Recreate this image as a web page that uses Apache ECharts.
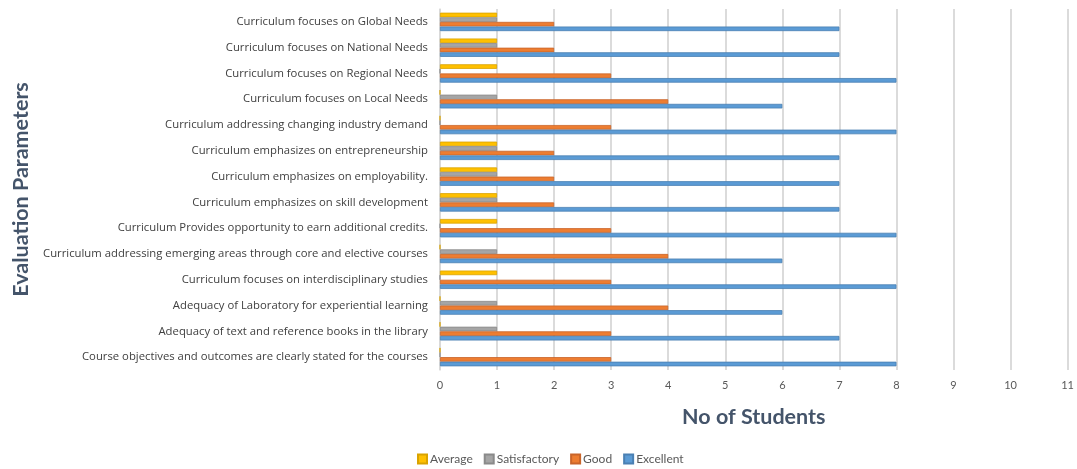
<!DOCTYPE html>
<html><head><meta charset="utf-8">
<script src="https://cdn.jsdelivr.net/npm/echarts@6/dist/echarts.min.js"></script>
<style>html,body{margin:0;padding:0;background:#fff}#c{width:1077px;height:469px}</style>
</head><body><div id="c"></div>
<script>
const categories = [
  "Curriculum focuses on Global Needs",
  "Curriculum focuses on National Needs",
  "Curriculum focuses on Regional Needs",
  "Curriculum focuses on Local Needs",
  "Curriculum addressing changing industry demand",
  "Curriculum emphasizes on entrepreneurship",
  "Curriculum emphasizes on employability.",
  "Curriculum emphasizes on skill development",
  "Curriculum Provides opportunity to earn additional credits.",
  "Curriculum addressing emerging areas through core and elective courses",
  "Curriculum focuses on interdisciplinary studies",
  "Adequacy of Laboratory for experiential learning",
  "Adequacy of text and reference books in the library",
  "Course objectives and outcomes are clearly stated for the courses"
];
const average      = [1,1,1,0,0,1,1,1,1,0,1,0,0,0];
const satisfactory = [1,1,0,1,0,1,1,1,0,1,0,1,1,0];
const good         = [2,2,3,4,3,2,2,2,3,4,3,4,3,3];
const excellent    = [7,7,8,6,8,7,7,7,8,6,8,6,7,8];
const xTicks = [0,1,2,3,4,5,6,7,8,9,10,11];

const font = "Lato, 'Open Sans', sans-serif";
const labelFont = "'Open Sans', sans-serif";
function mk(name, data, color, border) {
  return {
    name, type: 'bar', data, barWidth: 4.6, barGap: '0%',
    itemStyle: { color, borderColor: border, borderWidth: 0.8 },
    emphasis: { disabled: true }
  };
}
const chart = echarts.init(document.getElementById('c'));
chart.setOption({
  animation: false,
  textStyle: { fontFamily: font },
  grid: { left: 440, right: 2, top: 9, bottom: 99, containLabel: false },
  legend: {
    bottom: -1, left: 412, itemWidth: 9, itemHeight: 9, itemGap: 11,
    icon: 'rect',
    data: ['Average','Satisfactory','Good','Excellent'],
    textStyle: { fontSize: 12, color: '#595959', fontFamily: font, padding: [0,0,0,-2] }
  },
  xAxis: {
    type: 'value', min: 0, max: 11, interval: 1,
    name: 'No of Students', nameLocation: 'middle', nameGap: 36,
    nameTextStyle: { fontSize: 21.5, fontWeight: 'bold', color: '#44546A', fontFamily: font },
    axisLabel: { fontSize: 11, color: '#595959', margin: 10,
      formatter: v => xTicks.includes(v) ? String(v) : '' },
    axisLine: { show: false }, axisTick: { show: false },
    splitLine: { show: true, lineStyle: { color: '#cfcfcf', width: 1.5 } }
  },
  yAxis: {
    type: 'category', data: categories, inverse: true,
    name: 'Evaluation Parameters', nameLocation: 'middle', nameGap: 405,
    nameTextStyle: { fontSize: 21.5, fontWeight: 'bold', color: '#44546A', fontFamily: font },
    axisLabel: { fontSize: 11.3, color: '#404040', margin: 12, fontFamily: labelFont },
    axisLine: { show: true, lineStyle: { color: '#d9d9d9', width: 1.5 } },
    axisTick: { show: false }
  },
  series: [
    mk('Average', average, '#FFC000', '#d9a300'),
    mk('Satisfactory', satisfactory, '#A5A5A5', '#8a8a8a'),
    mk('Good', good, '#ED7D31', '#c9652a'),
    mk('Excellent', excellent, '#5B9BD5', '#4a80b3')
  ]
});
</script></body></html>
